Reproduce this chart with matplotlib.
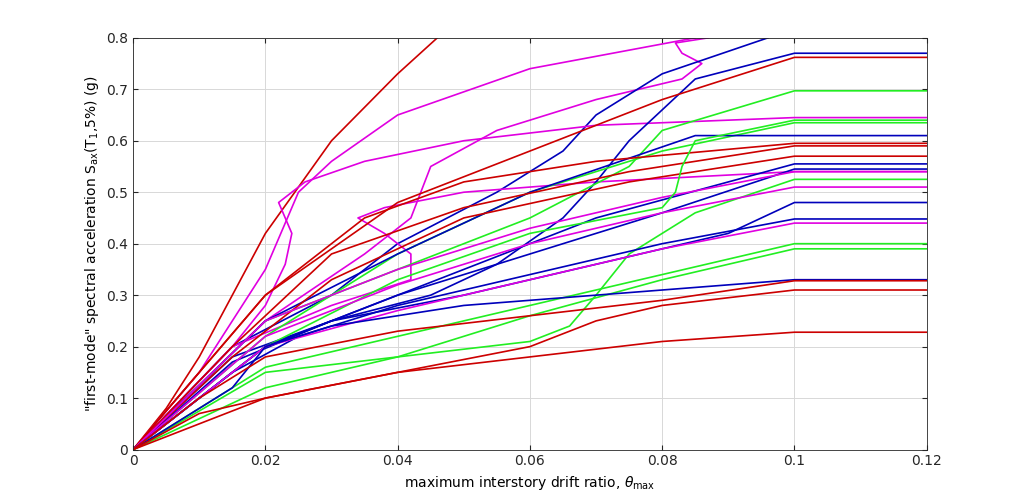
import numpy as np
import matplotlib
matplotlib.use('Agg')
from matplotlib import pyplot as plt

# 颜色
RED = '#cc0000'
MAG = '#e000e0'
GRN = '#22ee22'
BLU = '#0000bb'

# IDA curves: (color, drift points, Sa points), flat segment to 0.12 added for collapse
curves = [
    (RED, [0, 0.005, 0.01, 0.015, 0.02, 0.03, 0.04, 0.046], [0, 0.08, 0.18, 0.3, 0.42, 0.6, 0.73, 0.8]),
    (MAG, [0, 0.01, 0.02, 0.025, 0.03, 0.04, 0.06, 0.085], [0, 0.15, 0.35, 0.5, 0.56, 0.65, 0.74, 0.8]),
    (MAG, [0, 0.012, 0.02, 0.035, 0.042, 0.045, 0.055, 0.07, 0.083, 0.086, 0.083, 0.082, 0.087],
          [0, 0.15, 0.25, 0.38, 0.45, 0.55, 0.62, 0.68, 0.72, 0.75, 0.77, 0.79, 0.8]),
    (BLU, [0, 0.015, 0.03, 0.04, 0.055, 0.065, 0.07, 0.08, 0.096], [0, 0.2, 0.3, 0.4, 0.5, 0.58, 0.65, 0.73, 0.8]),
    (MAG, [0, 0.015, 0.02, 0.023, 0.024, 0.022, 0.026, 0.035, 0.05, 0.07, 0.1], [0, 0.2, 0.28, 0.36, 0.42, 0.48, 0.52, 0.56, 0.6, 0.63, 0.645]),
    (MAG, [0, 0.015, 0.03, 0.042, 0.042, 0.038, 0.034, 0.038, 0.05, 0.07, 0.1], [0, 0.2, 0.28, 0.33, 0.38, 0.42, 0.45, 0.47, 0.5, 0.52, 0.54]),
    (BLU, [0, 0.015, 0.03, 0.045, 0.055, 0.065, 0.07, 0.075, 0.085, 0.1], [0, 0.18, 0.25, 0.3, 0.36, 0.45, 0.52, 0.6, 0.72, 0.77]),
    (RED, [0, 0.01, 0.02, 0.04, 0.06, 0.08, 0.1], [0, 0.15, 0.3, 0.48, 0.58, 0.68, 0.762]),
    (GRN, [0, 0.02, 0.04, 0.06, 0.075, 0.08, 0.1], [0, 0.25, 0.35, 0.45, 0.55, 0.62, 0.697]),
    (GRN, [0, 0.02, 0.04, 0.06, 0.08, 0.1], [0, 0.22, 0.38, 0.5, 0.58, 0.635]),
    (BLU, [0, 0.02, 0.04, 0.06, 0.085, 0.1], [0, 0.25, 0.38, 0.5, 0.61, 0.61]),
    (RED, [0, 0.02, 0.035, 0.05, 0.07, 0.1], [0, 0.3, 0.45, 0.52, 0.56, 0.595]),
    (RED, [0, 0.015, 0.03, 0.05, 0.075, 0.1], [0, 0.2, 0.38, 0.47, 0.54, 0.59]),
    (RED, [0, 0.015, 0.03, 0.05, 0.075, 0.1], [0, 0.18, 0.33, 0.45, 0.52, 0.57]),
    (BLU, [0, 0.015, 0.03, 0.05, 0.07, 0.1], [0, 0.17, 0.25, 0.35, 0.45, 0.555]),
    (BLU, [0, 0.02, 0.04, 0.06, 0.08, 0.1], [0, 0.2, 0.3, 0.38, 0.46, 0.545]),
    (MAG, [0, 0.02, 0.04, 0.06, 0.08, 0.1], [0, 0.25, 0.35, 0.43, 0.49, 0.54]),
    (GRN, [0, 0.02, 0.04, 0.06, 0.08, 0.082, 0.083, 0.085, 0.1], [0, 0.2, 0.33, 0.42, 0.47, 0.5, 0.55, 0.6, 0.64]),
    (GRN, [0, 0.02, 0.04, 0.06, 0.066, 0.07, 0.075, 0.085, 0.1], [0, 0.15, 0.18, 0.21, 0.24, 0.3, 0.38, 0.46, 0.525]),
    (MAG, [0, 0.02, 0.04, 0.06, 0.08, 0.1], [0, 0.22, 0.32, 0.4, 0.46, 0.51]),
    (BLU, [0, 0.015, 0.02, 0.03, 0.05, 0.07, 0.09, 0.1], [0, 0.15, 0.2, 0.25, 0.3, 0.36, 0.42, 0.48]),
    (BLU, [0, 0.015, 0.025, 0.04, 0.06, 0.08, 0.1], [0, 0.15, 0.22, 0.28, 0.34, 0.4, 0.448]),
    (MAG, [0, 0.02, 0.04, 0.06, 0.08, 0.1], [0, 0.2, 0.27, 0.33, 0.39, 0.44]),
    (GRN, [0, 0.02, 0.04, 0.06, 0.08, 0.1], [0, 0.16, 0.22, 0.28, 0.34, 0.40]),
    (GRN, [0, 0.02, 0.04, 0.06, 0.08, 0.1], [0, 0.12, 0.18, 0.26, 0.33, 0.39]),
    (BLU, [0, 0.015, 0.02, 0.03, 0.05, 0.07, 0.1], [0, 0.12, 0.2, 0.24, 0.28, 0.3, 0.33]),
    (RED, [0, 0.01, 0.02, 0.04, 0.06, 0.08, 0.1], [0, 0.1, 0.18, 0.23, 0.26, 0.29, 0.328]),
    (RED, [0, 0.02, 0.04, 0.06, 0.07, 0.08, 0.1], [0, 0.1, 0.15, 0.2, 0.25, 0.28, 0.31]),
    (RED, [0, 0.01, 0.02, 0.04, 0.06, 0.08, 0.1], [0, 0.07, 0.1, 0.15, 0.18, 0.21, 0.228]),
]

fig = plt.figure(figsize=(10.24, 5.04), dpi=100)
ax = fig.add_axes([0.13, 0.108, 0.775, 0.817])
for c, xs, ys in curves:
    xs = list(xs); ys = list(ys)
    if xs[-1] == 0.1:
        xs.append(0.12); ys.append(ys[-1])
    ax.plot(xs, ys, color=c, lw=1.2)

ax.set_xlim(0, 0.12)
ax.set_ylim(0, 0.8)
ax.set_xticks([0, 0.02, 0.04, 0.06, 0.08, 0.1, 0.12])
ax.set_xticklabels(['0', '0.02', '0.04', '0.06', '0.08', '0.1', '0.12'])
ax.set_yticks(np.arange(0, 0.81, 0.1))
ax.set_yticklabels(['0', '0.1', '0.2', '0.3', '0.4', '0.5', '0.6', '0.7', '0.8'])
ax.grid(True, color='#d8d8d8', lw=0.7)
ax.set_axisbelow(True)
ax.tick_params(direction='in', labelsize=10, top=True, right=True, colors='#262626')
for s in ax.spines.values():
    s.set_color('#262626'); s.set_linewidth(0.6)
ax.set_xlabel(r'maximum interstory drift ratio, $\theta_{\rm max}$', fontsize=10)
ax.set_ylabel(r'"first-mode" spectral acceleration S$_{\rm ax}$(T$_1$,5%) (g)', fontsize=10)
plt.savefig('out.png')
